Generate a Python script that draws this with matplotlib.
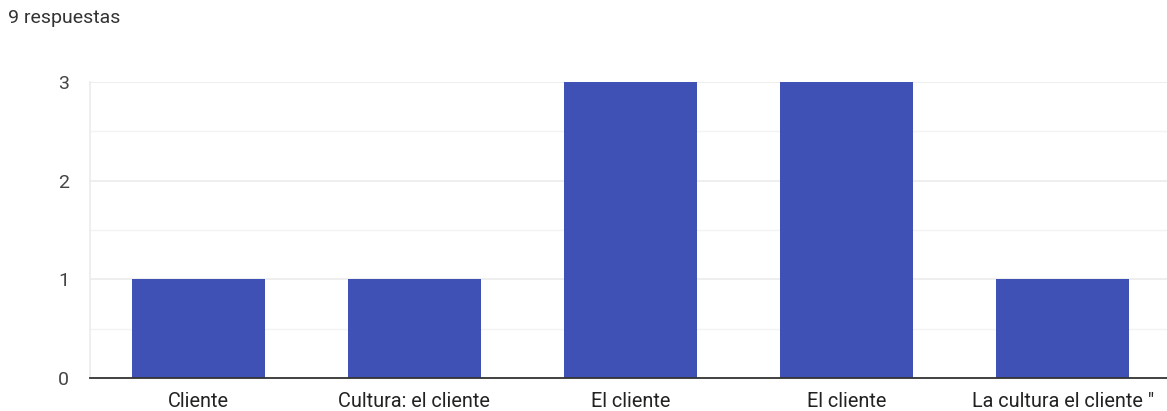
import matplotlib
matplotlib.use('Agg')
import matplotlib.pyplot as plt
from matplotlib.ticker import MultipleLocator

categories = ["Cliente", "Cultura: el cliente", "El cliente", "El cliente",
              "La cultura el cliente \""]
counts = [1, 1, 3, 3, 1]
total_label = "9 respuestas"

plt.rcParams['font.family'] = ['Roboto', 'DejaVu Sans']

fig = plt.figure(figsize=(11.67, 4.11), dpi=100)
ax = fig.add_axes([90 / 1167, 33 / 411, 1081 / 1167, 296 / 411])

x = range(len(categories))
ax.bar(x, counts, width=0.615, color='#3f51b5', zorder=3)

ax.set_xlim(-0.5, len(categories) - 0.5)
ax.set_ylim(0, 3)
ax.yaxis.set_major_locator(MultipleLocator(1))
ax.yaxis.set_minor_locator(MultipleLocator(0.5))
ax.grid(axis='y', which='major', color='#ebebeb', linewidth=1.2, zorder=0)
ax.grid(axis='y', which='minor', color='#f3f3f3', linewidth=1.0, zorder=0)

ax.set_xticks(list(x))
ax.set_xticklabels(categories, fontsize=14.3, color='#222222')
ax.tick_params(axis='x', length=0, pad=10)
ax.tick_params(axis='y', which='both', length=0, pad=19, labelsize=14,
               labelcolor='#444444')
for lbl in ax.get_yticklabels():
    lbl.set_x(lbl.get_position()[0])

for side in ['top', 'right']:
    ax.spines[side].set_visible(False)
ax.spines['left'].set_color('#ebebeb')
ax.spines['left'].set_linewidth(1.2)
ax.spines['bottom'].set_color('#333333')
ax.spines['bottom'].set_linewidth(1.3)
ax.spines['bottom'].set_zorder(4)

ax.tick_params(axis='y', pad=19)
ax.yaxis.set_tick_params(which='major', pad=19)
for lbl in ax.yaxis.get_ticklabels():
    lbl.set_horizontalalignment('center')

fig.text(8 / 1167, 1 - 18 / 411, total_label, fontsize=14,
         color='#333333', va='center', ha='left')

fig.savefig('out.png', dpi=100)
